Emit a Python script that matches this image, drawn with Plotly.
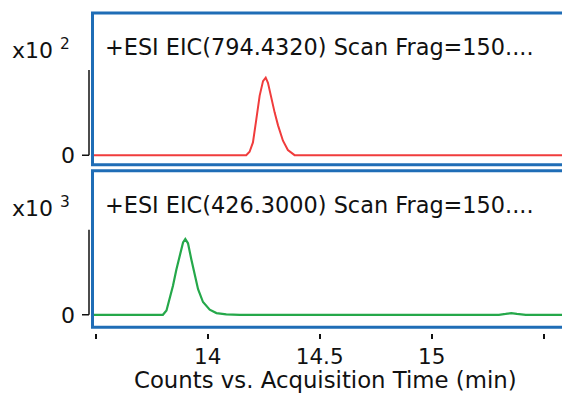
import plotly.graph_objects as go

# ---- data (x10^2 counts for top, x10^3 for bottom) ----
time_794 = [13.49, 14.172, 14.187, 14.202, 14.217, 14.232, 14.247, 14.259, 14.269,
            14.284, 14.299, 14.314, 14.336, 14.358, 14.388, 15.59]
int_794 = [0.0, 0.0, 0.04, 0.15, 0.42, 0.70, 0.87, 0.91, 0.85,
           0.66, 0.50, 0.35, 0.17, 0.06, 0.0, 0.0]

time_426 = [13.49, 13.800, 13.816, 13.830, 13.845, 13.860, 13.875, 13.890, 13.900,
            13.912, 13.927, 13.942, 13.957, 13.979, 14.009, 14.039, 14.083, 14.143,
            15.30, 15.33, 15.355, 15.38, 15.42, 15.59]
int_426 = [0.0, 0.0, 0.05, 0.19, 0.34, 0.53, 0.71, 0.85, 0.89,
           0.84, 0.65, 0.46, 0.30, 0.15, 0.06, 0.02, 0.005, 0.0,
           0.0, 0.01, 0.02, 0.01, 0.0, 0.0]

title_794 = "+ESI EIC(794.4320) Scan Frag=150...."
title_426 = "+ESI EIC(426.3000) Scan Frag=150...."
scale_794 = "x10 <sup>2</sup>"
scale_426 = "x10 <sup>3</sup>"
x_tickvals = [13.5, 14, 14.5, 15, 15.5]
x_ticktext = ["", "14", "14.5", "15", ""]
x_title = "Counts vs. Acquisition Time (min)"

# page body has an 8px default margin; the figure sits at (8, 8)
OX, OY = 8, 8
W, H = 562, 388
FONT = "DejaVu Sans"


def px(x):
    return (x - OX) / W


def py(y):
    return 1 - (y - OY) / H


fig = go.Figure()
fig.add_trace(go.Scatter(x=time_794, y=int_794, mode="lines",
                         line=dict(color="#f03c3c", width=2), xaxis="x2", yaxis="y2",
                         showlegend=False, hoverinfo="skip"))
fig.add_trace(go.Scatter(x=time_426, y=int_426, mode="lines",
                         line=dict(color="#25a84a", width=2.2), xaxis="x", yaxis="y",
                         showlegend=False, hoverinfo="skip"))

xrange = [13.4924, 15.5862]
xdom = [px(94), px(563)]

fig.update_layout(
    width=W, height=H,
    margin=dict(l=0, r=0, t=0, b=0),
    paper_bgcolor="white", plot_bgcolor="white",
    font=dict(family=FONT, color="#111111"),
    xaxis=dict(domain=xdom, range=xrange, anchor="free", position=py(336),
               tickvals=x_tickvals, ticktext=x_ticktext, ticks="outside",
               ticklen=5, tickwidth=1.5, tickcolor="#111111",
               showgrid=False, zeroline=False, showline=False,
               tickfont=dict(size=21.5, family=FONT),
               ticklabelstandoff=0),
    yaxis=dict(domain=[py(329), py(174)], range=[-0.128, 1.674],
               tickvals=[0], ticktext=["0"], ticks="", showgrid=False,
               zeroline=False, showline=False, tickfont=dict(size=22, family=FONT),
               ticklabelstandoff=18),
    xaxis2=dict(domain=xdom, range=xrange, anchor="y2", matches="x",
                showticklabels=False, ticks="", showgrid=False, zeroline=False,
                showline=False),
    yaxis2=dict(domain=[py(165), py(14)], range=[-0.0965, 1.659],
                tickvals=[0], ticktext=["0"], ticks="", showgrid=False,
                zeroline=False, showline=False, tickfont=dict(size=22, family=FONT),
                ticklabelstandoff=18),
)

shapes = []
# frames
for top, bot in [(13, 166.5), (172.5, 330.5)]:
    shapes.append(dict(type="rect", xref="paper", yref="paper",
                       x0=px(92.5), x1=px(564), y0=py(bot), y1=py(top),
                       line=dict(color="#1f6db6", width=3), layer="above"))
# left spines with zero tick
for yr in ["y", "y2"]:
    shapes.append(dict(type="line", xref="paper", yref=yr, x0=px(89), x1=px(89),
                       y0=0, y1=1, line=dict(color="#111111", width=1.5)))
    shapes.append(dict(type="line", xref="paper", yref=yr, x0=px(82), x1=px(89),
                       y0=0, y1=0, line=dict(color="#111111", width=1.5)))
fig.update_layout(shapes=shapes)

ann = []
for title, yc in [(title_794, 47.5), (title_426, 207.5)]:
    ann.append(dict(text=title, xref="paper", yref="paper", x=px(103), y=py(yc),
                    xanchor="left", yanchor="middle", showarrow=False,
                    font=dict(size=22.4, family=FONT, color="#111111")))
for sc, yc in [(scale_794, 49), (scale_426, 209)]:
    ann.append(dict(text=sc, xref="paper", yref="paper", x=px(10), y=py(yc),
                    xanchor="left", yanchor="middle", showarrow=False,
                    font=dict(size=22, family=FONT, color="#111111")))
ann.append(dict(text=x_title, xref="paper", yref="paper", x=px(325), y=py(384),
                xanchor="center", yanchor="middle", showarrow=False,
                font=dict(size=22.8, family=FONT, color="#111111")))
fig.update_layout(annotations=ann)

fig.write_html("out.html")
